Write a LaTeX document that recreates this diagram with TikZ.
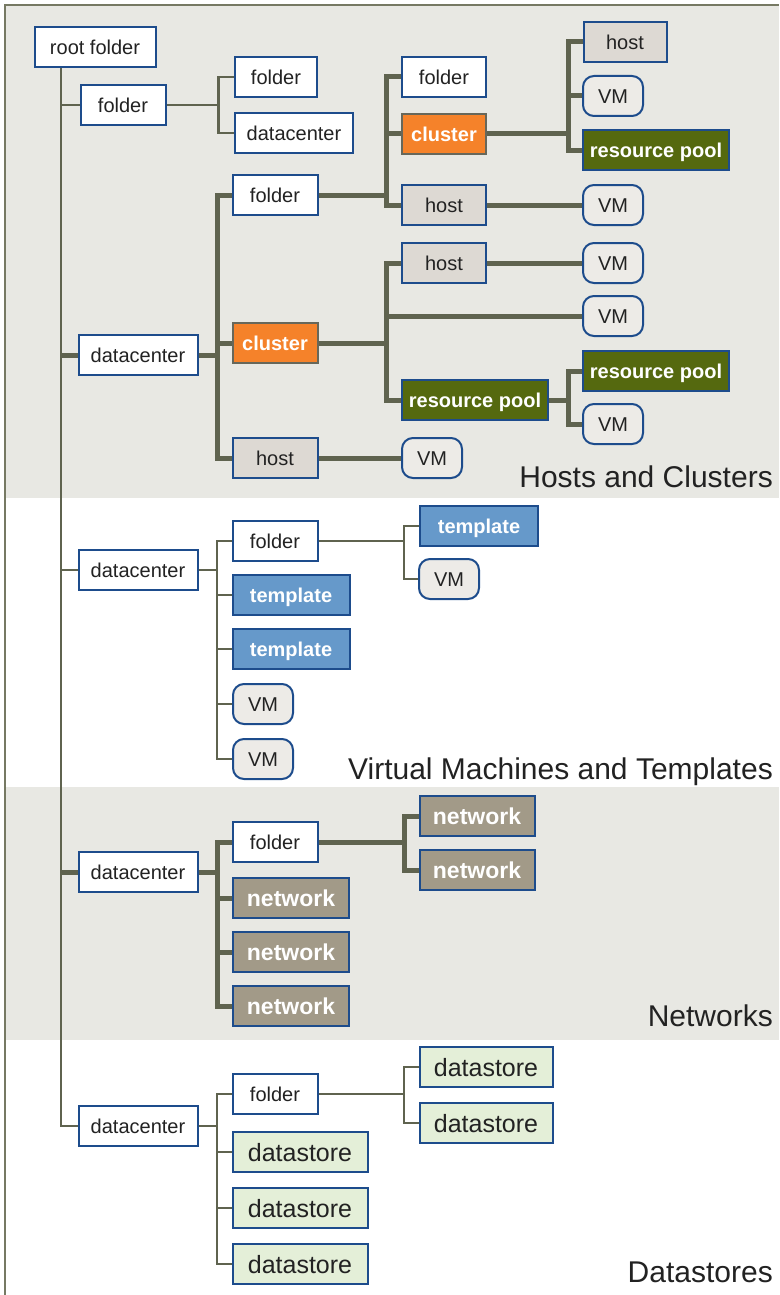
\documentclass[tikz,border=0pt]{standalone}
\usepackage{fontspec}
\setmainfont{Liberation Sans}
\definecolor{band}{HTML}{E8E8E3}
\definecolor{frame}{HTML}{767963}
\definecolor{wire}{HTML}{5F634F}
\definecolor{boxblue}{HTML}{1D4C8C}
\definecolor{txt}{HTML}{222222}
\definecolor{hostgray}{HTML}{DDD9D3}
\definecolor{vmgray}{HTML}{EDEBE7}
\definecolor{clusorange}{HTML}{F5822A}
\definecolor{clusline}{HTML}{67675A}
\definecolor{rpgreen}{HTML}{55690F}
\definecolor{tmplblue}{HTML}{6699CA}
\definecolor{netgray}{HTML}{A29A88}
\definecolor{dsgreen}{HTML}{E4EFD8}
\tikzset{
  box/.style={draw=boxblue,line width=2pt,minimum height=40pt,inner sep=0pt,text=txt,
    font=\fontsize{20}{24}\selectfont,text height=14.4pt,text depth=0pt},
  fldr/.style={box,fill=white},
  hst/.style={box,fill=hostgray},
  vmbox/.style={box,fill=vmgray,rounded corners=11pt,minimum width=60pt},
  clus/.style={box,fill=clusorange,draw=clusline,text=white,font=\fontsize{20}{24}\selectfont\bfseries},
  rpool/.style={box,fill=rpgreen,text=white,font=\fontsize{20}{24}\selectfont\bfseries,minimum width=146pt},
  tmpl/.style={box,fill=tmplblue,text=white,font=\fontsize{20}{24}\selectfont\bfseries,minimum width=117pt},
  netw/.style={box,fill=netgray,text=white,font=\fontsize{23}{27}\selectfont\bfseries,text height=16.5pt,minimum width=116pt},
  dstore/.style={box,fill=dsgreen,font=\fontsize{25}{29}\selectfont,text height=18pt,minimum width=135pt},
  lnk/.style={draw=wire,line width=2.6pt},
  lnkb/.style={draw=wire,line width=5pt},
  sect/.style={anchor=base east,text=txt,font=\fontsize{30}{34}\selectfont,inner sep=0pt}
}
\begin{document}
\begin{tikzpicture}[x=1pt,y=-1pt]
\useasboundingbox (0,0) rectangle (779,1295);
\fill[band] (6,6) rectangle (779,498);
\fill[band] (6,787) rectangle (779,1040);
\draw[frame,line width=2.5pt] (5,1295) -- (5,5) -- (779,5);

\node[fldr,minimum width=121pt] (root) at (95,47) {root folder};
\node[fldr,minimum width=85pt] (fA) at (123,105) {folder};
\node[fldr,minimum width=82pt] (fB) at (276,77) {folder};
\node[fldr,minimum width=118pt] (dcB) at (294,133) {datacenter};

\node[fldr,minimum width=119pt] (dc1) at (138,355) {datacenter};
\node[fldr,minimum width=85pt] (f1) at (275,195) {folder};
\node[clus,minimum width=85pt] (cl1) at (275,343) {cluster};
\node[hst,minimum width=85pt] (h1) at (275,458) {host};
\node[fldr,minimum width=84pt] (f2) at (444,77) {folder};
\node[clus,minimum width=84pt] (cl2) at (444,134) {cluster};
\node[hst,minimum width=84pt] (h2) at (444,205) {host};
\node[hst,minimum width=84pt] (h4) at (444,263) {host};
\node[rpool] (rp2) at (475,400) {resource pool};
\node[hst,minimum width=83pt] (h3) at (625,42) {host};
\node[vmbox] (vm1) at (613,96) {VM};
\node[rpool] (rp1) at (656,150) {resource pool};
\node[vmbox] (vm2) at (613,205) {VM};
\node[vmbox] (vm3) at (613,263) {VM};
\node[vmbox] (vm4) at (613,316) {VM};
\node[rpool] (rp3) at (656,371) {resource pool};
\node[vmbox] (vm5) at (613,424) {VM};
\node[vmbox] (vm6) at (432,458) {VM};
\node[sect] (tHC) at (773,487) {Hosts and Clusters};

\node[fldr,minimum width=119pt] (dc2) at (138,570) {datacenter};
\node[fldr,minimum width=85pt] (f3) at (275,541) {folder};
\node[tmpl] (t1) at (291,595) {template};
\node[tmpl] (t2) at (291,649) {template};
\node[vmbox] (vm7) at (263,704) {VM};
\node[vmbox] (vm8) at (263,759) {VM};
\node[tmpl,minimum width=118pt] (t3) at (479,526) {template};
\node[vmbox] (vm9) at (449,579) {VM};
\node[sect] (tVM) at (773,779) {Virtual Machines and Templates};

\node[fldr,minimum width=119pt] (dc3) at (138,872) {datacenter};
\node[fldr,minimum width=85pt] (f4) at (275,842) {folder};
\node[netw] (n1) at (291,898) {network};
\node[netw] (n2) at (291,952) {network};
\node[netw] (n3) at (291,1006) {network};
\node[netw,minimum width=115pt] (n4) at (477,816) {network};
\node[netw,minimum width=115pt] (n5) at (477,870) {network};
\node[sect] (tNW) at (773,1026) {Networks};

\node[fldr,minimum width=119pt] (dc4) at (138,1126) {datacenter};
\node[fldr,minimum width=85pt] (f5) at (275,1094) {folder};
\node[dstore] (d1) at (300,1152) {datastore};
\node[dstore] (d2) at (300,1208) {datastore};
\node[dstore] (d3) at (300,1264) {datastore};
\node[dstore,minimum width=133pt] (d4) at (486,1067) {datastore};
\node[dstore,minimum width=133pt] (d5) at (486,1123) {datastore};
\node[sect] (tDS) at (773,1282) {Datastores};

\coordinate (trunk) at ([xshift=-34pt]root.south);
\draw[lnk] (trunk) |- (fA.west);
\draw[lnk] (trunk) |- (dc4.west);
\draw[lnkb] (dc1.west -| trunk) -- (dc1.west);
\draw[lnk] (dc2.west -| trunk) -- (dc2.west);
\draw[lnkb] (dc3.west -| trunk) -- (dc3.west);
\foreach \c in {fB,dcB} \draw[lnk] (fA.east) -- ++(52,0) |- (\c.west);

\foreach \c in {f1,cl1,h1} \draw[lnkb] (dc1.east) -- ++(18.5,0) |- (\c.west);
\foreach \c in {f2,cl2,h2} \draw[lnkb] (f1.east) -- ++(67.5,0) |- (\c.west);
\foreach \c in {h4,vm4,rp2} \draw[lnkb] (cl1.east) -- ++(67.5,0) |- (\c.west);
\foreach \c in {h3,vm1,rp1} \draw[lnkb] (cl2.east) -- ++(81,0) |- (\c.west);
\foreach \c in {rp3,vm5} \draw[lnkb] (rp2.east) -- ++(19,0) |- (\c.west);
\draw[lnkb] (h2) -- (vm2);
\draw[lnkb] (h4) -- (vm3);
\draw[lnkb] (h1) -- (vm6);

\foreach \c in {f3,t1,t2,vm7,vm8} \draw[lnk] (dc2.east) -- ++(18.5,0) |- (\c.west);
\foreach \c in {t3,vm9} \draw[lnk] (f3.east) -- ++(85.5,0) |- (\c.west);

\foreach \c in {f4,n1,n2,n3} \draw[lnkb] (dc3.east) -- ++(18.5,0) |- (\c.west);
\foreach \c in {n4,n5} \draw[lnkb] (f4.east) -- ++(85.5,0) |- (\c.west);

\foreach \c in {f5,d1,d2,d3} \draw[lnk] (dc4.east) -- ++(18.5,0) |- (\c.west);
\foreach \c in {d4,d5} \draw[lnk] (f5.east) -- ++(85.5,0) |- (\c.west);
\end{tikzpicture}
\end{document}
